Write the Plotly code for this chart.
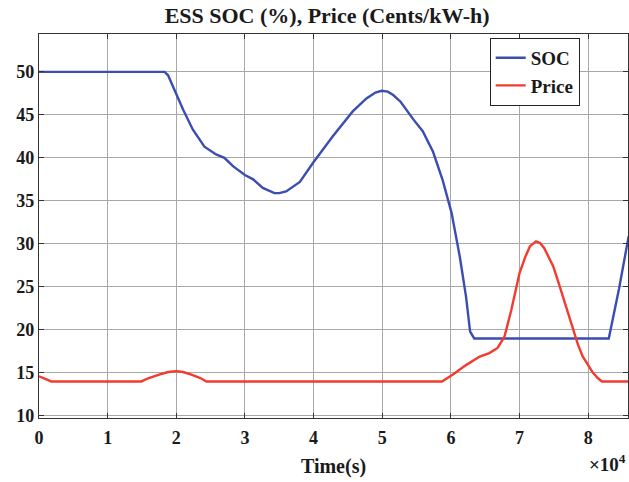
import plotly.graph_objects as go

# SOC series (time in seconds, SOC in %)
soc_t = [0, 18300, 18800, 19300, 20000, 21000, 22400, 24100, 25800, 27000, 28300,
         30000, 31200, 32600, 34300, 35000, 36000, 38000, 39900, 42800, 45700,
         47700, 49000, 49900, 50800, 51600, 52700, 53500, 54500, 55900, 57400,
         58800, 60100, 61300, 62200, 62800, 63400, 83000, 84500, 85900]
soc_v = [50.0, 50.0, 49.6, 48.7, 47.3, 45.6, 43.3, 41.3, 40.4, 40.0, 39.0,
         38.0, 37.5, 36.5, 35.9, 35.9, 36.1, 37.2, 39.4, 42.5, 45.4,
         46.9, 47.6, 47.8, 47.7, 47.3, 46.5, 45.6, 44.5, 43.1, 40.7,
         37.4, 33.6, 28.5, 23.9, 19.8, 19.0, 19.0, 24.8, 30.9]

# Price series (time in seconds, price in cents/kW-h)
price_t = [0, 1000, 1800, 14900, 16000, 17500, 18800, 20000, 21000, 22200,
           23500, 24400, 58700, 60300, 62200, 64200, 65600, 66800, 67800,
           68800, 69500, 70000, 70800, 71500, 72400, 73000, 73600, 74200,
           74900, 75600, 76300, 77000, 77800, 78500, 79200, 80000, 80700,
           81400, 82000, 85900]
price_v = [14.6, 14.3, 14.0, 14.0, 14.4, 14.8, 15.1, 15.2, 15.1, 14.8,
           14.4, 14.0, 14.0, 14.8, 15.9, 16.9, 17.3, 17.9, 19.2,
           22.3, 24.7, 26.6, 28.4, 29.7, 30.3, 30.1, 29.5, 28.6,
           27.4, 25.7, 23.9, 21.9, 20.0, 18.3, 16.9, 15.8, 15.0,
           14.4, 14.0, 14.0]

x_ticks = [0, 10000, 20000, 30000, 40000, 50000, 60000, 70000, 80000]
x_tick_labels = ["0", "1", "2", "3", "4", "5", "6", "7", "8"]
y_ticks = [10, 15, 20, 25, 30, 35, 40, 45, 50]
y_tick_labels = ["10", "15", "20", "25", "30", "35", "40", "45", "50"]

font_fam = "Liberation Serif"

fig = go.Figure()
fig.add_trace(go.Scatter(x=soc_t, y=soc_v, mode="lines", name="<b>SOC</b>",
                         line=dict(color="#3b4db3", width=2.4)))
fig.add_trace(go.Scatter(x=price_t, y=price_v, mode="lines", name="<b>Price</b>",
                         line=dict(color="#f23b2f", width=2.4)))

axis_common = dict(
    showline=True, linecolor="#333333", linewidth=1.2, mirror="allticks",
    ticks="inside", ticklen=5, tickcolor="#333333", automargin=False,
    showgrid=True, gridcolor="#a8a8a8", gridwidth=1, zeroline=False,
    tickfont=dict(family=font_fam, size=18, color="#1a1a1a"),
)

fig.update_layout(
    width=629, height=482,
    paper_bgcolor="white", plot_bgcolor="white",
    margin=dict(l=39, r=1, t=34, b=64),
    title=dict(text="<b>ESS SOC (%), Price (Cents/kW-h)</b>",
               x=0.52, xanchor="center", y=0.985, yanchor="top",
               font=dict(family=font_fam, size=22, color="#1a1a1a")),
    xaxis=dict(range=[0, 85800], tickvals=x_ticks,
               ticktext=["<b>" + s + "</b>" for s in x_tick_labels],
               ticklabelstandoff=3,
               title=dict(text="<b>Time(s)</b>", standoff=12,
                          font=dict(family=font_fam, size=20, color="#1a1a1a")),
               **axis_common),
    yaxis=dict(range=[9.75, 54.4], tickvals=y_ticks,
               ticktext=["<b>" + s + "</b>" for s in y_tick_labels],
               **axis_common),
    legend=dict(x=0.918, xanchor="right", y=0.99, yanchor="top",
                bgcolor="white", bordercolor="#222222", borderwidth=1,
                font=dict(family=font_fam, size=19, color="#1a1a1a"),
                tracegroupgap=0, itemwidth=30),
    showlegend=True,
)

fig.add_annotation(text="<b>×10<sup>4</sup></b>", xref="paper", yref="paper",
                   x=1.0, xanchor="right", y=-0.08, yanchor="top",
                   showarrow=False,
                   font=dict(family=font_fam, size=19, color="#1a1a1a"))

fig.write_html("out.html", config={"displayModeBar": False},
               post_script="document.body.style.margin='0';document.body.style.padding='0';")
